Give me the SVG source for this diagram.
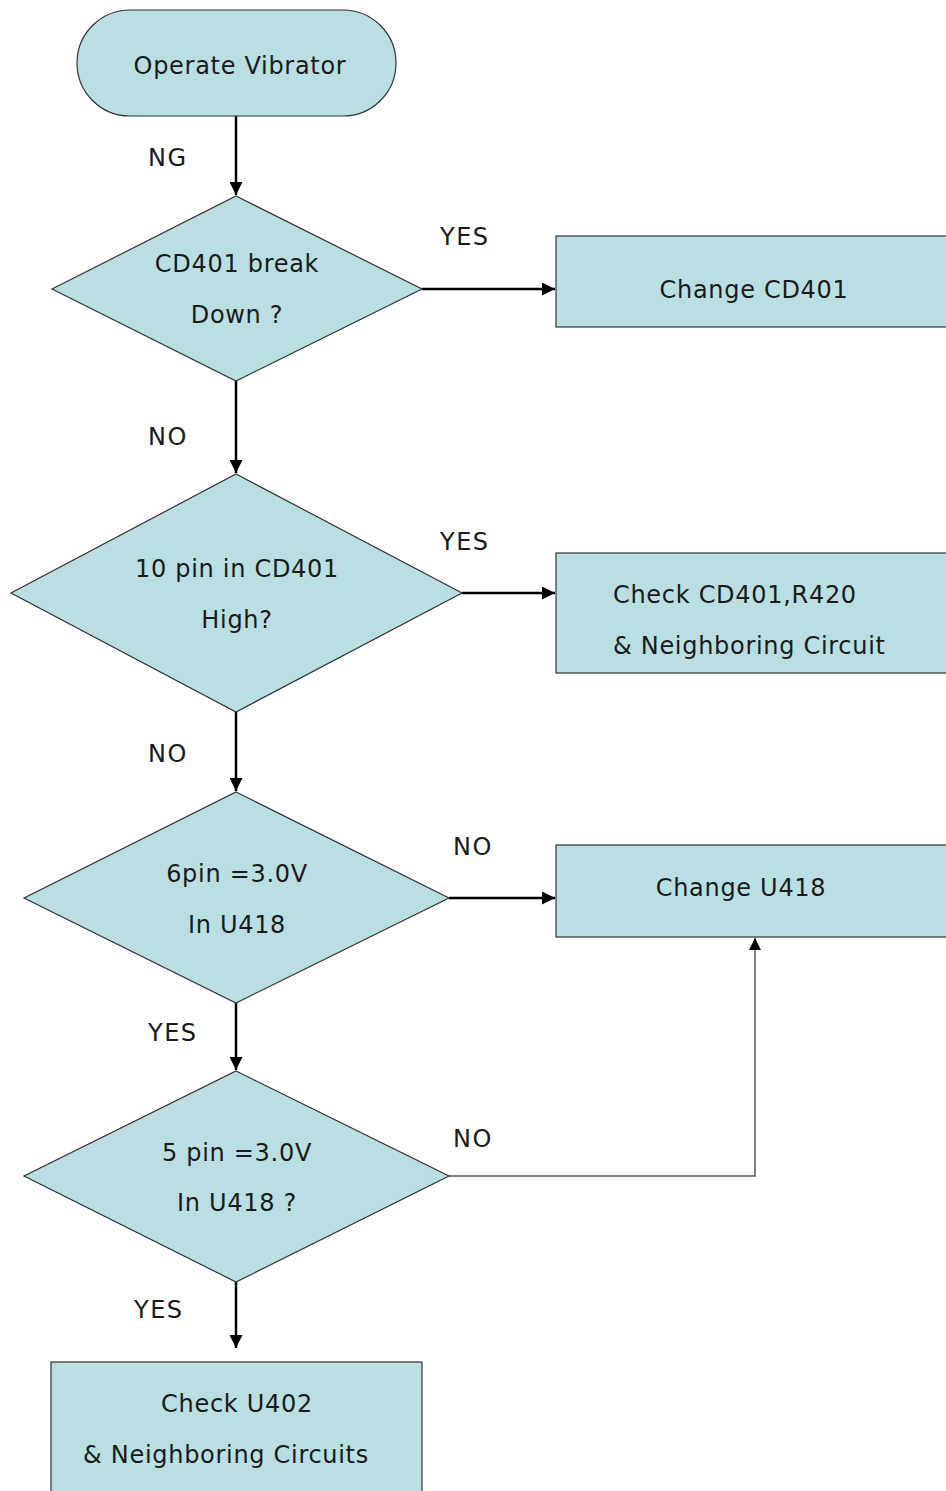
<svg xmlns="http://www.w3.org/2000/svg" width="946" height="1491" viewBox="0 0 946 1491">
<defs>
<style>
.shape{fill:#b9dfe2;stroke:#333;stroke-width:1.2}
.t{font-family:"DejaVu Sans",sans-serif;font-size:24px;fill:#1a1a1a;letter-spacing:0.7px}
.c{text-anchor:middle}
.lbl{font-family:"DejaVu Sans",sans-serif;font-size:24px;fill:#1a1a1a;letter-spacing:1.5px}
.conn{fill:none;stroke:#000;stroke-width:2.5}
.thin{fill:none;stroke:#555;stroke-width:1.5}
</style>
<marker id="ah" viewBox="0 0 10 10" refX="10" refY="5" markerWidth="5.2" markerHeight="5.2" orient="auto" markerUnits="strokeWidth">
<path d="M0,0 L10,5 L0,10 z" fill="#000"/>
</marker>
<marker id="ah2" viewBox="0 0 10 10" refX="10" refY="5" markerWidth="8" markerHeight="8" orient="auto" markerUnits="strokeWidth">
<path d="M0,0 L10,5 L0,10 z" fill="#000"/>
</marker>
</defs>
<rect width="946" height="1491" fill="#fff"/>

<g id="connectors">
<line class="conn" x1="236" y1="116" x2="236" y2="195" marker-end="url(#ah)"/>
<line class="conn" x1="422" y1="289" x2="555" y2="289" marker-end="url(#ah)"/>
<line class="conn" x1="236" y1="381" x2="236" y2="473" marker-end="url(#ah)"/>
<line class="conn" x1="462" y1="593" x2="555" y2="593" marker-end="url(#ah)"/>
<line class="conn" x1="236" y1="712" x2="236" y2="791" marker-end="url(#ah)"/>
<line class="conn" x1="449" y1="898" x2="555" y2="898" marker-end="url(#ah)"/>
<line class="conn" x1="236" y1="1003" x2="236" y2="1070" marker-end="url(#ah)"/>
<polyline class="thin" points="449,1176 755,1176 755,938" marker-end="url(#ah2)"/>
<line class="conn" x1="236" y1="1282" x2="236" y2="1348" marker-end="url(#ah)"/>
<text class="lbl" x="148" y="166">NG</text>
<text class="lbl" x="440" y="245">YES</text>
<text class="lbl" x="148" y="445">NO</text>
<text class="lbl" x="440" y="550">YES</text>
<text class="lbl" x="148" y="762">NO</text>
<text class="lbl" x="453" y="855">NO</text>
<text class="lbl" x="148" y="1041">YES</text>
<text class="lbl" x="453" y="1147">NO</text>
<text class="lbl" x="134" y="1318">YES</text>
</g>

<g id="start">
<rect class="shape" x="77" y="10" width="319" height="106" rx="53" ry="53"/>
<text class="t c" x="240" y="74">Operate Vibrator</text>
</g>

<g id="d1">
<polygon class="shape" points="236,196 422,289 236,381 52,289"/>
<text class="t c" x="237" y="272">CD401 break</text>
<text class="t c" x="237" y="323">Down ?</text>
</g>

<g id="b1">
<rect class="shape" x="556" y="236" width="400" height="91"/>
<text class="t c" x="754" y="298">Change CD401</text>
</g>

<g id="d2">
<polygon class="shape" points="236,474 462,593 236,712 11,593"/>
<text class="t c" x="237" y="577">10 pin in CD401</text>
<text class="t c" x="237" y="628">High?</text>
</g>

<g id="b2">
<rect class="shape" x="556" y="553" width="400" height="120"/>
<text class="t" x="613" y="603">Check CD401,R420</text>
<text class="t" x="613" y="654">&amp; Neighboring Circuit</text>
</g>

<g id="d3">
<polygon class="shape" points="236,792 449,898 236,1003 24,898"/>
<text class="t c" x="237" y="882">6pin =3.0V</text>
<text class="t c" x="237" y="933">In U418</text>
</g>

<g id="b3">
<rect class="shape" x="556" y="845" width="400" height="92"/>
<text class="t c" x="741" y="896">Change U418</text>
</g>

<g id="d4">
<polygon class="shape" points="236,1071 449,1176 236,1282 24,1176"/>
<text class="t c" x="237" y="1161">5 pin =3.0V</text>
<text class="t c" x="237" y="1211">In U418 ?</text>
</g>

<g id="b5">
<rect class="shape" x="51" y="1362" width="371" height="140"/>
<text class="t c" x="237" y="1412">Check U402</text>
<text class="t c" x="226" y="1463">&amp; Neighboring Circuits</text>
</g>
</svg>
